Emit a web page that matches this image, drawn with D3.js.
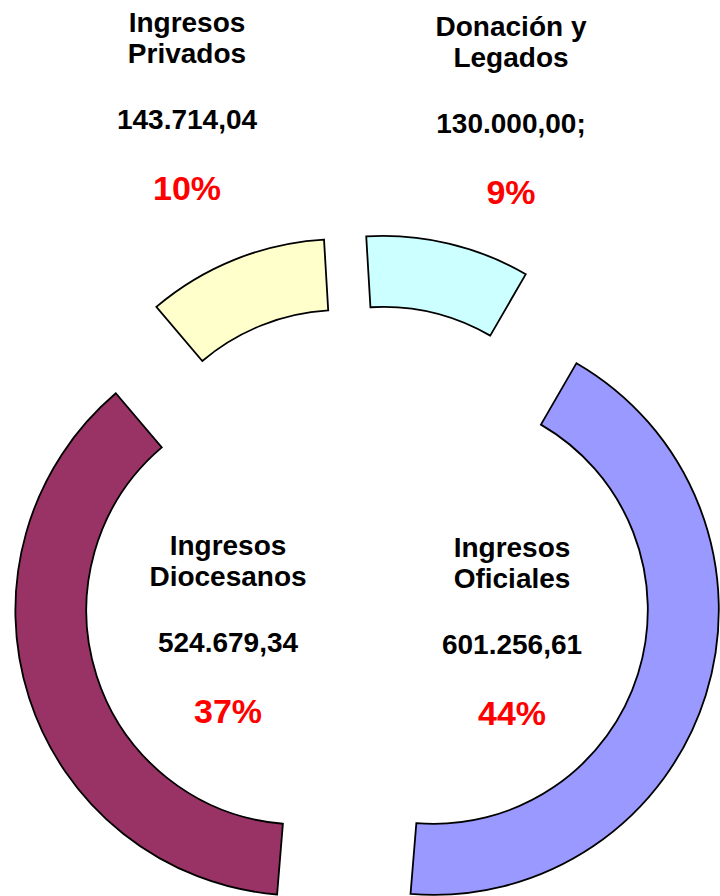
<!DOCTYPE html>
<meta charset="utf-8">
<head>
<style>
  body { margin: 0; background: #fff; }
  text { font-family: "Liberation Sans", Arial, sans-serif; font-weight: bold; }
</style>
</head>
<body>
<svg id="my_dataviz" width="720" height="896"></svg>

<script src="https://d3js.org/d3.v7.min.js"></script>
<script>

// Data, in the order the slices go clockwise from the top
var categories = ["Donación y Legados", "Ingresos Oficiales", "Ingresos Diocesanos", "Ingresos Privados"];
var labelLines = [["Donación y", "Legados"], ["Ingresos", "Oficiales"], ["Ingresos", "Diocesanos"], ["Ingresos", "Privados"]];
var values = [130000.00, 601256.61, 524679.34, 143714.04];
var valueLabels = ["130.000,00;", "601.256,61", "524.679,34", "143.714,04"];
var percentLabels = ["9%", "44%", "37%", "10%"];
var colors = ["#ccffff", "#9999ff", "#993366", "#ffffcc"];

// Where each label block sits (centre x, first baseline)
var labelPos = [[511, 36], [512, 557], [228, 555], [187, 32]];

// The svg
var svg = d3.select("svg"),
  width = +svg.attr("width"),
  height = +svg.attr("height");

svg.append("rect").attr("width", width).attr("height", height).attr("fill", "#fff");

var cx = 367, cy = 589,   // centre of the un-exploded ring
  explode = 70;

var pie = d3.pie()
  .sort(null)
  .value(function(d) { return d; })
  .startAngle(-3.4 * Math.PI / 180)
  .endAngle(-3.4 * Math.PI / 180 + 2 * Math.PI);

var arc = d3.arc()
  .innerRadius(214)
  .outerRadius(285);

var arcs = pie(values);

// Draw the slices, each pushed out along its middle angle
svg.append("g")
  .selectAll("path")
  .data(arcs)
  .enter()
  .append("path")
    .attr("d", arc)
    .attr("transform", function(d) {
      var mid = (d.startAngle + d.endAngle) / 2;
      return "translate(" + (cx + explode * Math.sin(mid)) + "," + (cy - explode * Math.cos(mid)) + ")";
    })
    .attr("fill", function(d, i) { return colors[i]; })
    .attr("stroke", "#000")
    .attr("stroke-width", 1.8)
    .attr("stroke-linejoin", "miter");

// Labels
var labels = svg.append("g")
  .selectAll("g")
  .data(categories)
  .enter()
  .append("g")
    .attr("transform", function(d, i) { return "translate(" + labelPos[i][0] + "," + labelPos[i][1] + ")"; })
    .attr("text-anchor", "middle");

labels.each(function(d, i) {
  var g = d3.select(this);
  g.append("text").attr("y", 0).attr("font-size", 28).attr("fill", "#000").text(labelLines[i][0]);
  g.append("text").attr("y", 31).attr("font-size", 28).attr("fill", "#000").text(labelLines[i][1]);
  g.append("text").attr("y", 97).attr("font-size", 28).attr("fill", "#000").text(valueLabels[i]);
  g.append("text").attr("y", 168).attr("font-size", 34).attr("fill", "#ff0000").text(percentLabels[i]);
});

</script>
</body>
